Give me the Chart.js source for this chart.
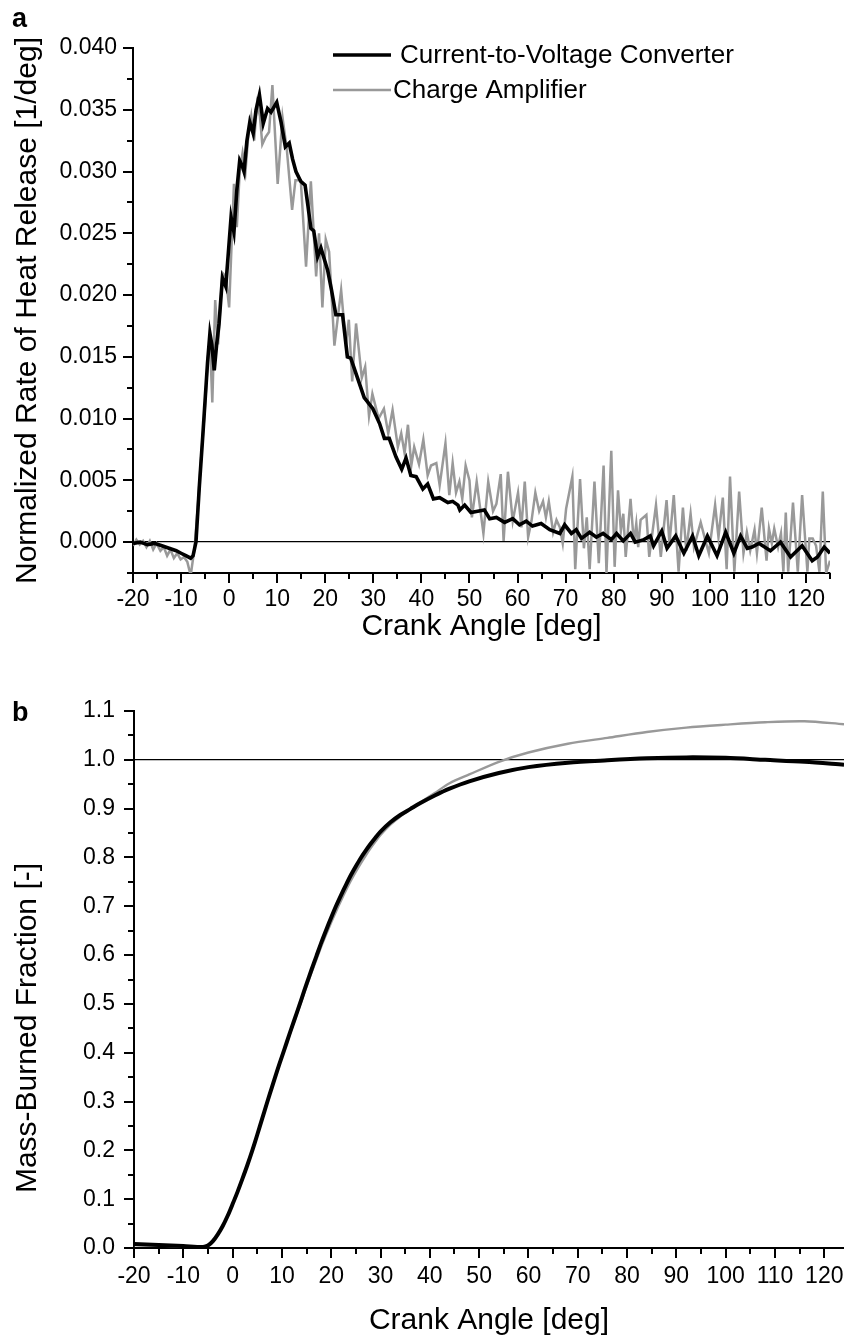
<!DOCTYPE html>
<html>
<head>
<meta charset="utf-8">
<script src="https://cdn.jsdelivr.net/npm/chart.js@4.4.1/dist/chart.umd.min.js"></script>
<style>
  body { margin: 0; background: #fff; width: 844px; height: 1339px; position: relative; overflow: hidden; }
  .panel { position: absolute; left: 0; width: 844px; }
  .tag { position: absolute; left: 12px; font: bold 27px/27px 'Liberation Sans', Arial, sans-serif; color: #000; }
</style>
</head>
<body>
<div class="panel" style="top:0;height:660px"><canvas id="chartA" width="844" height="660"></canvas></div>
<div class="panel" style="top:660px;height:679px"><canvas id="chartB" width="844" height="679"></canvas></div>
<div class="tag" style="top:5px">a</div>
<div class="tag" style="top:699px">b</div>
<script>
// ---- panel a : normalized rate of heat release ----
const cvcAngle = [-20, -18.5, -17, -15.5, -14, -12.5, -11, -10, -9, -8, -7.5, -6.9, -6.2, -5.5, -5, -4.5, -4, -3.6, -3.1, -2.6,
  -2.1, -1.4, -0.7, 0.4, 1, 1.6, 2.2, 2.7, 3.1, 3.7, 4.3, 5, 5.6, 6.3, 7.1, 8, 8.7, 9.9, 10.8, 11.7,
  12.5, 13.2, 13.9, 14.9, 15.8, 16.4, 17, 17.6, 18.4, 19.1, 20.5, 21.3, 22.2, 23.6, 24.6, 25.3, 26.7, 28.1, 29.9, 31.3,
  32.3, 33.3, 34.7, 35.9, 36.8, 37.8, 38.9, 40.3, 41.3, 42.5, 43.8, 45.5, 46.5, 47.6, 48, 49, 50.3, 51.7, 53.1, 54.2,
  55.6, 57.3, 59, 60.4, 61.8, 63.1, 64.9, 66.7, 68.8, 69.8, 71.2, 72.2, 73.3, 75, 76.4, 77.8, 79.5, 80.6, 82, 83.5,
  84.5, 86.3, 87.6, 88.3, 90, 91.1, 92.9, 94.6, 96.4, 97.7, 99.5, 101.5, 103.3, 105, 106.4, 107.8, 108.8, 110.2, 112.6, 114.7,
  116.8, 119.2, 121.3, 122.4, 123.8, 125];
const cvcRate = [-0.0001, 0.0000, -0.0002, -0.0001, -0.0003, -0.0005, -0.0007, -0.0009, -0.0011, -0.0013, -0.0011, 0.0000, 0.0045, 0.0085, 0.0115, 0.0145, 0.0169, 0.0160, 0.0139, 0.0160,
  0.0177, 0.0214, 0.0207, 0.0263, 0.0251, 0.0285, 0.0309, 0.0305, 0.0300, 0.0325, 0.0340, 0.0331, 0.0350, 0.0362, 0.0339, 0.0351, 0.0348, 0.0356, 0.0340, 0.0320,
  0.0323, 0.0310, 0.0300, 0.0292, 0.0289, 0.0272, 0.0254, 0.0252, 0.0231, 0.0238, 0.0220, 0.0204, 0.0184, 0.0184, 0.0150, 0.0149, 0.0133, 0.0117, 0.0108, 0.0096,
  0.0084, 0.0084, 0.0069, 0.0059, 0.0068, 0.0054, 0.0053, 0.0043, 0.0047, 0.0035, 0.0036, 0.0032, 0.0033, 0.0030, 0.0026, 0.0030, 0.0024, 0.0025, 0.0026, 0.0019,
  0.0020, 0.0016, 0.0019, 0.0014, 0.0017, 0.0013, 0.0015, 0.0010, 0.0007, 0.0014, 0.0007, 0.0010, 0.0003, 0.0008, 0.0004, 0.0007, 0.0002, 0.0007, 0.0001, 0.0007,
  0.0000, 0.0002, 0.0005, -0.0003, 0.0009, -0.0005, 0.0005, -0.0009, 0.0005, -0.0011, 0.0005, -0.0011, 0.0008, -0.0009, 0.0005, -0.0005, -0.0004, -0.0001, -0.0007, 0.0000,
  -0.0012, -0.0003, -0.0015, -0.0012, -0.0004, -0.0009];

const caAngle = [-20, -19.3, -18.6, -17.9, -17.2, -16.5, -15.8, -15.1, -14.3, -13.6, -12.9, -12.2, -11.5, -10.8, -10.1, -9.4, -8.7, -8, -7.2, -6.5,
  -5.8, -5.1, -4.4, -4, -3.5, -2.9, -2.3, -1.4, -0.7, 0, 1, 1.6, 2.2, 2.8, 3.4, 4, 4.6, 5.2, 5.8, 6.4,
  6.9, 7.6, 8.3, 9, 10.1, 11.1, 12, 13.1, 13.8, 14.9, 16, 17, 18.1, 18.7, 19.4, 20.1, 20.8, 21.9, 23.3, 24.3,
  24.9, 25.6, 26.4, 27.6, 28.3, 29.1, 29.8, 31.1, 32.2, 33.1, 34, 35.1, 35.8, 36.5, 37.2, 37.9, 38.5, 39.5, 40.4, 41.3,
  42, 43.1, 43.8, 45, 45.8, 46.5, 47.2, 47.9, 48.5, 49.2, 50, 50.5, 51.5, 52.1, 52.9, 53.9, 54.9, 55.6, 56.5, 57.1,
  58, 59, 60.1, 60.8, 61.5, 62.2, 62.9, 63.7, 64.5, 65.3, 65.9, 66.5, 67.4, 68.1, 68.8, 69.4, 70.1, 71.4, 72, 73,
  73.8, 74.4, 75, 76, 76.9, 77.9, 78.5, 79.5, 80.2, 80.9, 81.5, 82, 82.5, 83.5, 84.2, 84.7, 85.1, 85.6, 86.8, 87.4,
  88.8, 89.8, 91, 91.6, 92.5, 93.5, 94.4, 95.1, 96, 96.7, 98.1, 99.1, 99.8, 101.1, 101.8, 102.7, 103.5, 104.2, 105.1, 106.1,
  107, 107.7, 108.4, 109.3, 109.8, 110.8, 111.8, 112.3, 112.9, 113.4, 114.2, 114.8, 115.3, 115.8, 116.3, 117.3, 118.3, 119.2, 120.3, 120.7,
  121.4, 122.1, 122.8, 123.5, 124.2, 125];
const caRate = [-0.0003, 0.0002, -0.0002, 0.0001, -0.0004, 0.0001, -0.0006, -0.0001, -0.0007, -0.0004, -0.0011, -0.0006, -0.0013, -0.0009, -0.0014, -0.0012, -0.0016, -0.0027, -0.0005, 0.0030,
  0.0070, 0.0105, 0.0150, 0.0165, 0.0113, 0.0196, 0.0160, 0.0218, 0.0215, 0.0190, 0.0290, 0.0255, 0.0300, 0.0315, 0.0300, 0.0330, 0.0345, 0.0325, 0.0355, 0.0345,
  0.0322, 0.0328, 0.0332, 0.0370, 0.0290, 0.0344, 0.0318, 0.0269, 0.0293, 0.0293, 0.0223, 0.0292, 0.0215, 0.0250, 0.0190, 0.0245, 0.0235, 0.0159, 0.0204, 0.0160,
  0.0180, 0.0130, 0.0177, 0.0133, 0.0142, 0.0102, 0.0120, 0.0100, 0.0108, 0.0088, 0.0107, 0.0077, 0.0088, 0.0072, 0.0095, 0.0062, 0.0077, 0.0063, 0.0083, 0.0054,
  0.0062, 0.0064, 0.0046, 0.0080, 0.0038, 0.0064, 0.0040, 0.0049, 0.0035, 0.0062, 0.0050, 0.0020, 0.0049, 0.0031, 0.0007, 0.0049, 0.0025, 0.0031, 0.0055, 0.0001,
  0.0057, 0.0017, 0.0040, 0.0012, 0.0049, 0.0004, 0.0017, 0.0040, 0.0025, 0.0033, 0.0020, 0.0033, 0.0008, 0.0018, 0.0012, -0.0001, 0.0027, 0.0053, -0.0022, 0.0051,
  -0.0005, 0.0020, -0.0022, 0.0049, -0.0017, 0.0062, -0.0025, 0.0074, -0.0020, 0.0042, 0.0009, 0.0023, -0.0012, 0.0035, -0.0001, 0.0015, -0.0004, 0.0018, 0.0022, -0.0012,
  0.0030, -0.0012, 0.0034, -0.0001, 0.0038, -0.0024, 0.0028, -0.0007, 0.0023, -0.0004, 0.0016, 0.0001, -0.0009, 0.0030, 0.0004, 0.0036, -0.0022, 0.0053, -0.0024, 0.0041,
  -0.0009, 0.0008, -0.0007, 0.0010, -0.0009, 0.0028, -0.0015, 0.0011, -0.0001, 0.0011, -0.0004, 0.0007, -0.0024, 0.0024, -0.0024, 0.0032, -0.0024, 0.0038, -0.0024, 0.0003,
  0.0003, -0.0003, -0.0024, 0.0041, -0.0025, -0.0015];

// ---- panel b : mass-burned fraction ----
const mbfAngle = [-20, -15, -10, -6, -5, -4, -3, -2, -1, 0, 1, 2, 3, 4, 5, 6, 7, 8, 9, 10,
  11, 12, 13, 14, 15, 16, 17, 18, 19, 20, 21, 22, 23, 24, 25, 26, 27, 28, 29, 30,
  32, 34, 36, 38, 41, 44, 48, 54, 60, 68, 76, 84, 92, 100, 108, 116, 124];
const mbfCvc = [0.008, 0.006, 0.004, 0.002, 0.005, 0.014, 0.028, 0.045, 0.066, 0.090, 0.115, 0.142, 0.170, 0.200, 0.232, 0.265, 0.298, 0.330, 0.362, 0.392,
  0.422, 0.452, 0.481, 0.511, 0.541, 0.570, 0.598, 0.626, 0.652, 0.677, 0.701, 0.723, 0.744, 0.764, 0.782, 0.799, 0.814, 0.828, 0.841, 0.853,
  0.872, 0.887, 0.899, 0.911, 0.927, 0.941, 0.956, 0.973, 0.985, 0.994, 0.999, 1.003, 1.005, 1.004, 1.000, 0.996, 0.990];
const mbfCa = [0.006, 0.005, 0.003, 0.001, 0.005, 0.014, 0.028, 0.045, 0.066, 0.090, 0.115, 0.142, 0.170, 0.200, 0.232, 0.265, 0.298, 0.330, 0.362, 0.392,
  0.421, 0.450, 0.478, 0.507, 0.536, 0.564, 0.591, 0.618, 0.643, 0.667, 0.690, 0.712, 0.733, 0.753, 0.771, 0.788, 0.804, 0.819, 0.833, 0.846,
  0.867, 0.884, 0.898, 0.912, 0.932, 0.952, 0.970, 0.996, 1.015, 1.033, 1.045, 1.057, 1.066, 1.072, 1.077, 1.079, 1.073];

const seriesNames = ['Current-to-Voltage Converter', 'Charge Amplifier'];

Chart.defaults.font.family = "'Liberation Sans', Arial, sans-serif";
Chart.defaults.color = '#000';

function pairs(xs, ys) {
  return xs.map((x, i) => ({ x: x, y: ys[i] }));
}
function isMajor(v, step) {
  const r = v / step;
  return Math.abs(r - Math.round(r)) < 1e-6;
}

// outward major / minor tick marks on both axes
const tickMarks = {
  id: 'tickMarks',
  afterDraw(chart, args, opts) {
    const ctx = chart.ctx;
    const xs = chart.scales.x, ys = chart.scales.y;
    ctx.save();
    ctx.strokeStyle = '#000';
    ctx.lineWidth = 2;
    ctx.beginPath();
    xs.ticks.forEach(t => {
      const px = Math.round(xs.getPixelForValue(t.value));
      const len = isMajor(t.value, opts.xMajor) ? 10 : 6;
      ctx.moveTo(px, xs.top);
      ctx.lineTo(px, xs.top + len);
    });
    ys.ticks.forEach(t => {
      const py = Math.round(ys.getPixelForValue(t.value));
      const len = isMajor(t.value, opts.yMajor) ? 10 : 6;
      ctx.moveTo(ys.right, py);
      ctx.lineTo(ys.right - len, py);
    });
    ctx.stroke();
    ctx.restore();
  }
};

// line-sample legend inside the plot (panel a only)
const lineKey = {
  id: 'lineKey',
  afterDraw(chart, args, opts) {
    if (!opts.rows) return;
    const ctx = chart.ctx;
    ctx.save();
    ctx.font = "26px 'Liberation Sans', Arial, sans-serif";
    ctx.textBaseline = 'middle';
    ctx.fillStyle = '#000';
    opts.rows.forEach((row, i) => {
      const ds = chart.data.datasets[i];
      ctx.strokeStyle = ds.borderColor;
      ctx.lineWidth = ds.borderWidth;
      ctx.beginPath();
      ctx.moveTo(opts.x, row.y);
      ctx.lineTo(opts.x + 58, row.y);
      ctx.stroke();
      ctx.fillText(ds.label, row.textX, row.y + 1);
    });
    ctx.restore();
  }
};

// y title of panel b sits lower than the scale centre in the original
const sideTitle = {
  id: 'sideTitle',
  afterDraw(chart, args, opts) {
    if (!opts.text) return;
    const ctx = chart.ctx;
    ctx.save();
    ctx.translate(opts.x, opts.y);
    ctx.rotate(-Math.PI / 2);
    ctx.font = "30px 'Liberation Sans', Arial, sans-serif";
    ctx.textAlign = 'center';
    ctx.textBaseline = 'middle';
    ctx.fillStyle = '#000';
    ctx.fillText(opts.text, 0, 0);
    ctx.restore();
  }
};

function axis(o) {
  return {
    type: 'linear',
    min: o.min,
    max: o.max,
    afterFit: o.fit,
    grid: {
      display: o.refLine !== undefined,
      drawTicks: false,
      color: ctx => (o.refLine !== undefined && Math.abs(ctx.tick.value - o.refLine) < 1e-9) ? '#000' : 'rgba(0,0,0,0)',
      lineWidth: 1.3
    },
    border: { display: true, color: '#000', width: 2 },
    ticks: {
      stepSize: o.step,
      autoSkip: false,
      maxRotation: 0,
      includeBounds: false,
      padding: o.pad,
      color: '#000',
      font: { size: 23 },
      callback: v => isMajor(v, o.major) ? v.toFixed(o.dec) : ''
    },
    title: { display: !!o.title, text: o.title || '', color: '#000', font: { size: 30 }, padding: 0 }
  };
}

new Chart(document.getElementById('chartA'), {
  type: 'line',
  data: {
    datasets: [
      { label: seriesNames[0], data: pairs(cvcAngle, cvcRate), borderColor: '#000', borderWidth: 3.6, pointRadius: 0, tension: 0 },
      { label: seriesNames[1], data: pairs(caAngle, caRate), borderColor: '#999999', borderWidth: 2.5, pointRadius: 0, tension: 0 }
    ]
  },
  options: {
    responsive: false,
    animation: false,
    devicePixelRatio: 1,
    layout: { padding: { left: 10, top: 48, right: 14, bottom: 15 } },
    scales: {
      x: axis({ min: -20, max: 125, step: 5, major: 10, dec: 0, pad: 13, title: 'Crank Angle [deg]',
        fit: s => { s.height = 72; s.paddingRight = 0; } }),
      y: axis({ min: -0.0025, max: 0.040, step: 0.0025, major: 0.005, dec: 3, pad: 16, refLine: 0,
        title: 'Normalized Rate of Heat Release [1/deg]', fit: s => { s.width = 123; } })
    },
    plugins: {
      legend: { display: false },
      tooltip: { enabled: false },
      tickMarks: { xMajor: 10, yMajor: 0.005 },
      lineKey: { x: 333, rows: [{ y: 55, textX: 400 }, { y: 90, textX: 393 }] }
    }
  },
  plugins: [tickMarks, lineKey]
});

new Chart(document.getElementById('chartB'), {
  type: 'line',
  data: {
    datasets: [
      { label: seriesNames[0], data: pairs(mbfAngle, mbfCvc), borderColor: '#000', borderWidth: 4, pointRadius: 0, tension: 0.3 },
      { label: seriesNames[1], data: pairs(mbfAngle, mbfCa), borderColor: '#999999', borderWidth: 2.4, pointRadius: 0, tension: 0.3 }
    ]
  },
  options: {
    responsive: false,
    animation: false,
    devicePixelRatio: 1,
    layout: { padding: { left: 10, top: 51, right: 0, bottom: 0 } },
    scales: {
      x: axis({ min: -20, max: 124, step: 5, major: 10, dec: 0, pad: 15, title: 'Crank Angle [deg]',
        fit: s => { s.height = 91; s.paddingRight = 0; } }),
      y: axis({ min: 0, max: 1.1, step: 0.05, major: 0.1, dec: 1, pad: 19, refLine: 1,
        fit: s => { s.width = 124; } })
    },
    plugins: {
      legend: { display: false },
      tooltip: { enabled: false },
      tickMarks: { xMajor: 10, yMajor: 0.1 },
      sideTitle: { text: 'Mass-Burned Fraction [-]', x: 28, y: 368 }
    }
  },
  plugins: [tickMarks, sideTitle]
});
</script>
</body>
</html>
